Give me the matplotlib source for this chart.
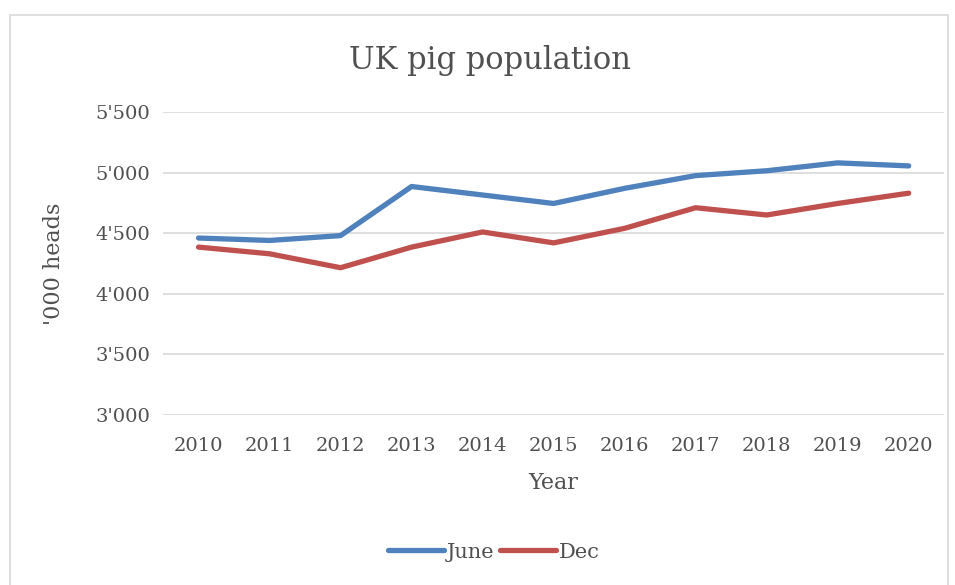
import numpy as np
import matplotlib.pyplot as plt
from matplotlib.patches import Rectangle

plt.rcParams['font.family'] = ['DejaVu Serif']

# UK pig herd, thousand heads
years = ['2010', '2011', '2012', '2013', '2014', '2015',
         '2016', '2017', '2018', '2019', '2020']
june = [4460, 4440, 4480, 4885, 4815, 4745, 4870, 4975, 5015, 5080, 5055]
dec = [4385, 4330, 4215, 4385, 4510, 4420, 4540, 4710, 4650, 4745, 4830]
y_ticks = [3000, 3500, 4000, 4500, 5000, 5500]
y_tick_labels = ["3'000", "3'500", "4'000", "4'500", "5'000", "5'500"]

BLUE = '#4F81BD'
RED = '#C0504D'
GREY_TXT = '#505050'

fig = plt.figure(figsize=(9.55, 5.85), dpi=100)
ax = fig.add_axes([0.1707, 0.2906, 0.818, 0.518])

# chart frame
fig.patches.append(Rectangle((10 / 955, -0.1), 938 / 955, 1.1 - 15 / 585,
                             transform=fig.transFigure, fill=False,
                             edgecolor='#D9D9D9', linewidth=1.2))

x = np.arange(len(years))
ax.plot(x, june, color=BLUE, linewidth=3.8, solid_capstyle='round', label='June', zorder=3)
ax.plot(x, dec, color=RED, linewidth=3.8, solid_capstyle='round', label='Dec', zorder=3)

ax.set_xlim(-0.5, len(years) - 0.5)
ax.set_ylim(3000, 5500)
ax.set_yticks(y_ticks)
ax.set_yticklabels(y_tick_labels)
ax.set_xticks(x)
ax.set_xticklabels(years)
ax.tick_params(axis='both', length=0, labelsize=14, colors=GREY_TXT)
ax.tick_params(axis='x', pad=16)
ax.tick_params(axis='y', pad=9)
ax.grid(axis='y', color='#D9D9D9', linewidth=1.2)
ax.set_axisbelow(True)
for s in ax.spines.values():
    s.set_visible(False)

ax.set_xlabel('Year', fontsize=16, color=GREY_TXT, labelpad=12)
ax.set_ylabel("'000 heads", fontsize=16, color=GREY_TXT, labelpad=22)
fig.text(0.513, 0.897, 'UK pig population', ha='center', va='center',
         fontsize=22, color=GREY_TXT)

fig.legend(loc='center', bbox_to_anchor=(0.517, 0.056), ncol=2, frameon=False,
           fontsize=15, handlelength=2.7, handletextpad=0.1, columnspacing=0.3,
           labelcolor=GREY_TXT)

fig.savefig('out.png', dpi=100)
